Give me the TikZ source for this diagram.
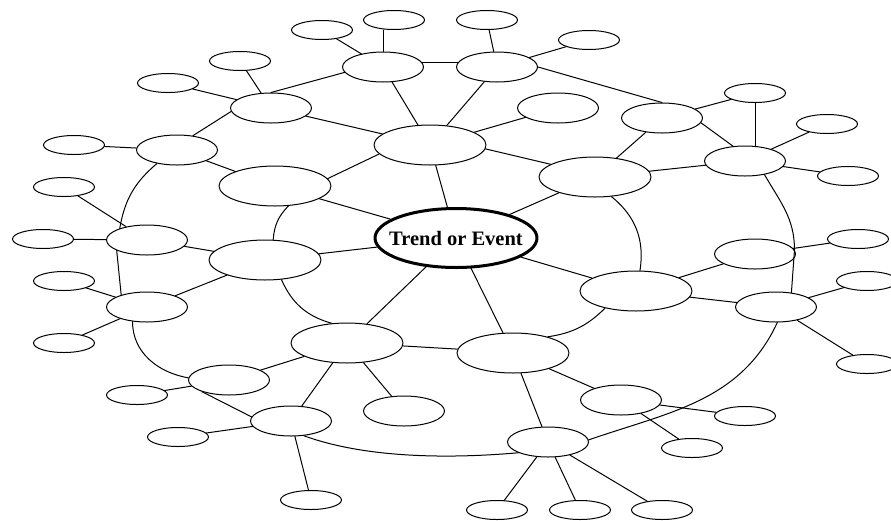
\documentclass[tikz,border=0pt]{standalone}
\usepackage{fontspec}
\setmainfont{Liberation Serif}
\usetikzlibrary{shapes.geometric}
\begin{document}
\begin{tikzpicture}[x=1pt,y=1pt,line join=round,line cap=round,line width=1pt,
		blob/.style={ellipse,draw,fill=white,inner sep=0pt},
		core/.style={blob,minimum width=162pt,minimum height=59pt,line width=3pt},
		hub/.style={blob,minimum width=112pt,minimum height=40pt},
		twig/.style={blob,minimum width=81pt,minimum height=30pt},
		leaf/.style={blob,minimum width=61pt,minimum height=19pt}]
	\useasboundingbox (0,0) rectangle (891,-520);
	\clip (0,0) rectangle (891,-520);
	% centre
	\node[core] (C) at (456,-238) {};
	\node[font=\fontsize{20.5}{24}\selectfont\bfseries] (Ct) at (C) {Trend or Event};
	% first ring
	\foreach \n/\x/\y in {I1/430/145,I2/275/186,I3/265/260,I4/347/343,I5/513/353,I6/636/291,I7/595/177}
		\node[hub] (\n) at (\x,-\y) {};
	% second ring
	\foreach \n/\x/\y in {M1/383/67,M2/497/67,M3/271/108,M4/177/150,M5/147/240,M6/147/307,M7/229/380,M8/291/421,
			M9/548/442,M10/621/400,M11/776/307,M12/755/254,M13/745/161,M14/662/118,M15/558/108,M16/404/411}
		\node[twig] (\n) at (\x,-\y) {};
	% leaves
	\foreach \n/\x/\y in {L1/394/20,L2/487/20,L3/322/30,L4/589/40,L5/240/61,L6/168/83,L7/74/145,L8/64/187,
			L9/43/239,L10/64/281,L11/64/343,L12/137/395,L13/178/437,L14/311/500,L15/497/510,L16/580/510,
			L17/662/510,L18/745/416,L19/692/448,L20/867/364,L21/867/281,L22/858/239,L23/848/176,L24/827/124,L25/755/93}
		\node[leaf] (\n) at (\x,-\y) {};
	% spokes
	\foreach \i in {1,...,7}
		\draw (C) -- (I\i);
	\foreach \a/\b in {I1/M1,I1/M2,I1/M3,I1/M15,I2/M4,I3/M5,I3/M6,I4/M7,I4/M8,I4/M16,
			I5/M9,I5/M10,I6/M11,I6/M12,I7/M13,I7/M14}
		\draw (\a) -- (\b);
	\foreach \a/\b in {M1/L3,M2/L2,M2/L4,M3/L5,M3/L6,M4/L7,M5/L8,M5/L9,M6/L10,M6/L11,M7/L12,M8/L13,
			M8/L14,M9/L15,M9/L16,M9/L17,M10/L18,M10/L19,M11/L20,M11/L21,M12/L22,M13/L23,M13/L24,M14/L25}
		\draw (\a) -- (\b);
	\draw (M1.north) -- (M1.north |- L1.south);
	\draw (L25.south) -- (L25.south |- M13.north);
	% inner loop
	\draw (I1.-4) -- (I7.164);
	\draw (I7.-50) to[bend left=30] (I6.79);
	\draw (I6.209) to[bend left=18] (I5.25);
	\draw (I5.176) -- (I4.-3);
	\draw (I4.128) to[bend left=25] (I3.-50);
	\draw (I3.68) to[bend left=20] (I2.-56);
	\draw (I2.8) -- (I1.190);
	% outer loop
	\draw (M1.7) -- (M2.173);
	\draw (M2.east) -- (M14.north);
	\draw (M14.-7) -- (M13.129);
	\draw (M13.-35) to[out=-60,in=90] (M12.6) -- (M11.43);
	\draw (M11.-85) to[out=-115,in=19] (M9.3);
	\draw (M9.200) to[out=185,in=-20,looseness=.8] (M8.-49);
	\draw (M8.174) -- (M7.203);
	\draw (M7.177) to[out=170,in=-90] (M6.225);
	\draw (M6.155) -- (M5.199);
	\draw (M5.157) to[bend left=20] (M4.214);
	\draw (M4.42) -- (M3.185);
	\draw (M3.north) -- (M1.188);
\end{tikzpicture}
\end{document}
